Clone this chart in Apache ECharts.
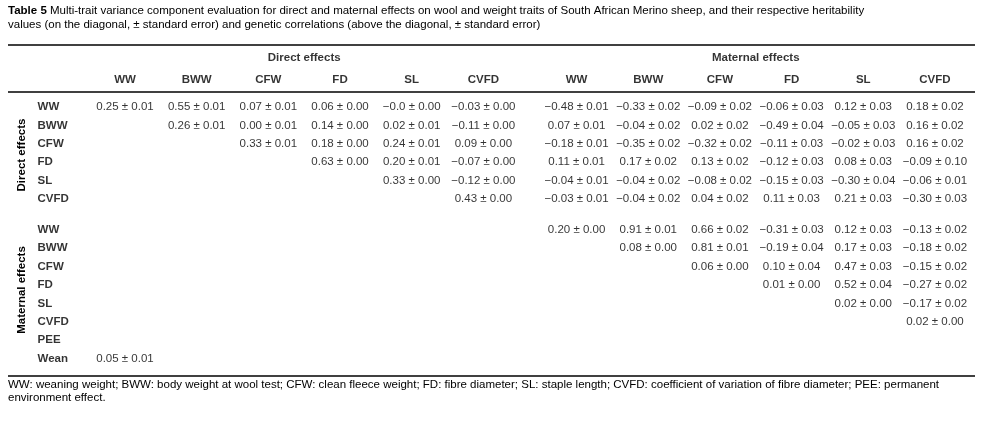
<!DOCTYPE html>
<html>
<head>
<meta charset="utf-8">
<script src="https://cdn.jsdelivr.net/npm/echarts@6/dist/echarts.min.js"></script>
<style>html,body{margin:0;padding:0;background:#fff}#c{width:994px;height:423px}</style>
</head>
<body>
<div id="c"></div>
<script>
var traits = ['WW', 'BWW', 'CFW', 'FD', 'SL', 'CVFD'];
var rowNames = ['WW', 'BWW', 'CFW', 'FD', 'SL', 'CVFD', 'WW', 'BWW', 'CFW', 'FD', 'SL', 'CVFD', 'PEE', 'Wean'];
var groups = ['Direct effects', 'Maternal effects'];
// one row per table row, 12 columns (direct then maternal), '' = empty
var cells = [
	['0.25 ± 0.01', '0.55 ± 0.01', '0.07 ± 0.01', '0.06 ± 0.00', '−0.0 ± 0.00', '−0.03 ± 0.00', '−0.48 ± 0.01', '−0.33 ± 0.02', '−0.09 ± 0.02', '−0.06 ± 0.03', '0.12 ± 0.03', '0.18 ± 0.02'],
	['', '0.26 ± 0.01', '0.00 ± 0.01', '0.14 ± 0.00', '0.02 ± 0.01', '−0.11 ± 0.00', '0.07 ± 0.01', '−0.04 ± 0.02', '0.02 ± 0.02', '−0.49 ± 0.04', '−0.05 ± 0.03', '0.16 ± 0.02'],
	['', '', '0.33 ± 0.01', '0.18 ± 0.00', '0.24 ± 0.01', '0.09 ± 0.00', '−0.18 ± 0.01', '−0.35 ± 0.02', '−0.32 ± 0.02', '−0.11 ± 0.03', '−0.02 ± 0.03', '0.16 ± 0.02'],
	['', '', '', '0.63 ± 0.00', '0.20 ± 0.01', '−0.07 ± 0.00', '0.11 ± 0.01', '0.17 ± 0.02', '0.13 ± 0.02', '−0.12 ± 0.03', '0.08 ± 0.03', '−0.09 ± 0.10'],
	['', '', '', '', '0.33 ± 0.00', '−0.12 ± 0.00', '−0.04 ± 0.01', '−0.04 ± 0.02', '−0.08 ± 0.02', '−0.15 ± 0.03', '−0.30 ± 0.04', '−0.06 ± 0.01'],
	['', '', '', '', '', '0.43 ± 0.00', '−0.03 ± 0.01', '−0.04 ± 0.02', '0.04 ± 0.02', '0.11 ± 0.03', '0.21 ± 0.03', '−0.30 ± 0.03'],
	['', '', '', '', '', '', '0.20 ± 0.00', '0.91 ± 0.01', '0.66 ± 0.02', '−0.31 ± 0.03', '0.12 ± 0.03', '−0.13 ± 0.02'],
	['', '', '', '', '', '', '', '0.08 ± 0.00', '0.81 ± 0.01', '−0.19 ± 0.04', '0.17 ± 0.03', '−0.18 ± 0.02'],
	['', '', '', '', '', '', '', '', '0.06 ± 0.00', '0.10 ± 0.04', '0.47 ± 0.03', '−0.15 ± 0.02'],
	['', '', '', '', '', '', '', '', '', '0.01 ± 0.00', '0.52 ± 0.04', '−0.27 ± 0.02'],
	['', '', '', '', '', '', '', '', '', '', '0.02 ± 0.00', '−0.17 ± 0.02'],
	['', '', '', '', '', '', '', '', '', '', '', '0.02 ± 0.00'],
	['', '', '', '', '', '', '', '', '', '', '', ''],
	['0.05 ± 0.01', '', '', '', '', '', '', '', '', '', '', '']
];
var titleBold = 'Table 5';
var titleText = ' Multi-trait variance component evaluation for direct and maternal effects on wool and weight traits of South African Merino sheep, and their respective heritability';
var titleText2 = 'values (on the diagonal, ± standard error) and genetic correlations (above the diagonal, ± standard error)';
var foot1 = 'WW: weaning weight; BWW: body weight at wool test; CFW: clean fleece weight; FD: fibre diameter; SL: staple length; CVFD: coefficient of variation of fibre diameter; PEE: permanent';
var foot2 = 'environment effect.';

var colX = function(i){ return i + (i >= 6 ? 0.3 : 0); };
var rowY = function(r){ return r + (r >= 6 ? 0.7 : 0); };

var cellData = [];
cells.forEach(function(row, r){
	row.forEach(function(v, c){
		if(v) cellData.push({value: [colX(c), rowY(r)], name: v});
	});
});
var headData = [];
for(var c = 0; c < 12; c++) headData.push({value: [colX(c), -1.47], name: traits[c % 6]});
var rowData = rowNames.map(function(n, r){ return {value: [-1.22, rowY(r)], name: n}; });
var groupData = [
	{value: [(colX(0) + colX(5)) / 2, -2.68], name: groups[0]},
	{value: [(colX(6) + colX(11)) / 2, -2.68], name: groups[1]}
];

function textSeries(data, bold, align){
	return {
		type: 'scatter', data: data, symbolSize: 0, silent: true,
		label: {
			show: true, position: 'inside', formatter: '{b}', color: '#000',
			fontFamily: 'Liberation Sans', fontSize: 11.5, fontWeight: bold ? 'bold' : 'normal',
			align: align || 'center'
		}
	};
}

var chart = echarts.init(document.getElementById('c'));
chart.setOption({
	backgroundColor: '#fff',
	animation: false,
	grid: {left: 0, top: 0, width: 994, height: 423},
	xAxis: {type: 'value', min: -1.744, max: 12.124, show: false},
	yAxis: {type: 'value', min: -5.831, max: 17.221, inverse: true, show: false},
	graphic: [
		{type: 'text', left: 8, top: 4, style: {text: '{b|' + titleBold + '}' + titleText + '\n' + titleText2, font: '11.5px "Liberation Sans"', lineHeight: 14, rich: {b: {fontWeight: 'bold', fontFamily: 'Liberation Sans', fontSize: 11.5}}, fill: '#000'}},
		{type: 'line', shape: {x1: 8, y1: 45, x2: 975, y2: 45}, style: {stroke: '#000', lineWidth: 1.5}},
		{type: 'line', shape: {x1: 8, y1: 92, x2: 975, y2: 92}, style: {stroke: '#000', lineWidth: 1.5}},
		{type: 'line', shape: {x1: 8, y1: 376, x2: 975, y2: 376}, style: {stroke: '#000', lineWidth: 1.5}},
		{type: 'text', x: 22, y: 155, rotation: Math.PI / 2, style: {text: groups[0], font: 'bold 11.5px "Liberation Sans"', align: 'center', verticalAlign: 'middle', fill: '#000'}},
		{type: 'text', x: 22, y: 290, rotation: Math.PI / 2, style: {text: groups[1], font: 'bold 11.5px "Liberation Sans"', align: 'center', verticalAlign: 'middle', fill: '#000'}},
		{type: 'text', left: 8, top: 378, style: {text: foot1 + '\n' + foot2, font: '11.5px "Liberation Sans"', lineHeight: 13, fill: '#000'}}
	],
	series: [
		textSeries(groupData, true),
		textSeries(headData, true),
		textSeries(rowData, true, 'left'),
		textSeries(cellData, false)
	]
});
</script>
</body>
</html>
